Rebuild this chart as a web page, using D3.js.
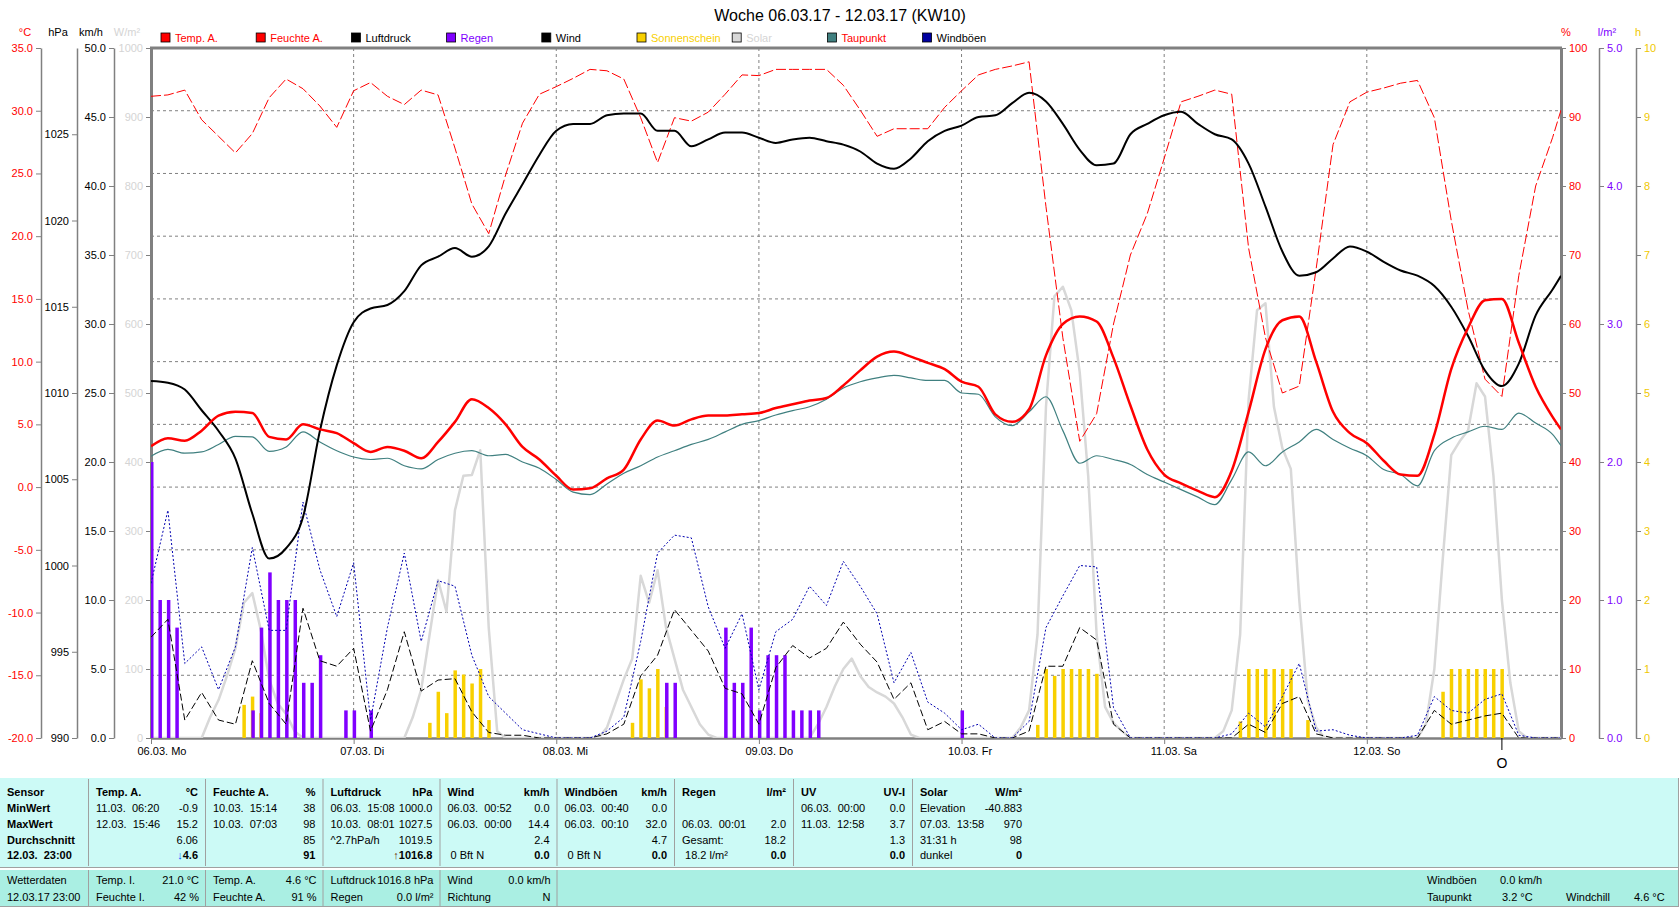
<!DOCTYPE html>
<html>
<head>
<meta charset="utf-8">
<title>Woche 06.03.17 - 12.03.17 (KW10)</title>
<script src="https://cdn.jsdelivr.net/npm/d3@7/dist/d3.min.js"></script>
<style>
  body { margin: 0; background: #ffffff; }
  svg text { font-family: "Liberation Sans", Arial, sans-serif; font-size: 11px; }
</style>
</head>
<body>
<svg id="chart" width="1680" height="909"></svg>
<script>
// hours since 06.03. 00:00, every 2 h plus the last reading at 23:00
var hours = d3.range(0, 168, 2).concat([167]);
var solarHours = d3.range(0, 168);

var pressure = [1010.7,1010.6,1010.2,1009.0,1007.8,1006.2,1003.0,1000.4,1001.0,1002.8,
  1007.8,1011.6,1014.1,1014.9,1015.1,1015.9,1017.4,1017.9,1018.4,1017.9,
  1018.5,1020.4,1022.1,1023.8,1025.2,1025.6,1025.6,1026.1,1026.2,1026.2,
  1025.2,1025.2,1024.3,1024.7,1025.1,1025.1,1024.8,1024.5,1024.7,1024.8,
  1024.6,1024.4,1024.0,1023.3,1023.0,1023.6,1024.6,1025.2,1025.5,1026.0,
  1026.1,1026.8,1027.4,1026.9,1025.6,1024.1,1023.2,1023.3,1025.0,1025.6,
  1026.1,1026.3,1025.6,1025.0,1024.7,1023.3,1020.8,1018.2,1016.8,1017.0,
  1017.8,1018.5,1018.2,1017.6,1017.1,1016.8,1016.2,1015.0,1013.3,1011.3,
  1010.4,1011.7,1014.5,1016.0,1016.8];

var tempOut = [3.25,3.9,3.7,4.5,5.7,6.0,5.9,4.0,3.8,5.0,
  4.6,4.3,3.5,2.8,3.2,2.9,2.3,3.6,5.2,7.0,
  6.3,5.0,3.2,2.2,0.9,-0.2,-0.1,0.7,1.4,3.8,
  5.3,4.9,5.4,5.7,5.7,5.8,5.9,6.3,6.6,6.9,
  7.1,8.1,9.3,10.4,10.8,10.4,9.9,9.4,8.4,8.0,
  5.8,5.2,6.2,10.5,13.0,13.6,13.2,10.3,6.5,3.0,
  1.0,0.3,-0.3,-0.8,1.3,6.0,11.0,13.3,13.6,10.0,
  6.0,4.3,3.5,2.1,1.0,0.9,4.2,9.4,12.7,14.9,
  15.0,11.5,8.0,5.6,4.6];

var dewPoint = [2.45,3.0,2.7,2.8,3.4,4.05,4.0,2.85,3.2,4.4,
  3.6,2.9,2.4,2.2,2.3,1.7,1.45,2.2,2.7,2.9,
  2.5,2.6,2.0,1.5,0.6,-0.4,-0.6,0.25,1.1,1.7,
  2.4,2.9,3.4,3.8,4.4,5.0,5.3,5.75,6.1,6.4,
  7.0,7.9,8.4,8.7,8.9,8.7,8.5,8.5,7.5,7.4,
  5.6,4.9,6.0,7.2,4.5,1.9,2.5,2.2,1.8,1.0,
  0.4,-0.2,-0.8,-1.4,0.6,2.8,1.7,2.8,3.6,4.6,
  3.8,3.1,2.5,1.4,1.0,0.1,2.9,3.9,4.4,4.85,
  4.6,5.9,5.1,4.2,3.3];

var humidity = [93.0,93.2,93.9,89.6,87.2,84.8,87.6,92.8,95.5,94.1,
  91.6,88.5,93.8,95.0,93.0,91.8,93.9,93.2,85.5,77.4,
  73.1,81.6,89.1,93.3,94.4,95.6,96.9,96.7,95.5,89.9,
  83.4,89.9,89.4,90.7,93.3,96.1,96.0,96.9,96.9,96.9,
  96.9,94.6,91.0,87.2,88.3,88.3,88.3,91.4,93.8,96.1,
  96.9,97.4,98.0,77,58,43,47,60,70,76,
  84,92.2,93.0,93.9,93.3,71,58,50,51,68,
  86,92.2,93.6,94.2,94.9,95.3,89.9,75,62,52,
  49.5,67,80,87,91];

var wind = [7.3,8.6,1.3,3.3,1.3,1.0,5.6,2.5,1.0,9.4,
  5.6,5.2,6.5,0.5,3.5,7.7,3.4,4.2,4.3,1.9,
  0.4,0.2,0.2,0,0,0,0,0.3,1.0,4.5,
  6.0,9.3,7.8,6.3,3.6,3.2,1.0,5.1,6.7,5.8,
  6.5,8.4,6.8,5.5,2.8,4.0,0.6,1.2,0.3,0.3,
  0,0,0.5,5.2,5.2,8.0,7.1,1.0,0,0,
  0,0,0,0,0,1.0,0.4,2.5,3.0,0.3,
  0,0,0,0,0,0,2.0,1.0,1.3,1.6,
  1.8,0,0,0,0];

var gusts = [11.2,16.5,5.4,6.6,3.5,6.6,13.8,7.8,7.8,17.1,
  12.2,8.8,12.7,1.3,8.0,13.4,7.0,11.4,11.0,6.0,
  3.0,1.8,0.6,0.3,0,0,0,0.5,1.5,7.0,
  13.4,14.7,14.5,9.5,6.5,9.0,3.5,7.7,8.6,11.0,
  9.6,12.8,11.0,9.0,4.0,6.2,2.6,1.8,0.6,1.0,
  0,0,1.2,8.0,10.3,12.5,12.4,2.2,0,0,
  0,0,0,0,0.3,1.8,0.8,3.0,5.4,0.5,
  0.6,0.2,0,0,0,0.2,3.0,2.0,1.8,2.8,
  3.2,0.2,0,0,0];

// hourly solar radiation W/m²
var solar = [0,0,0,0,0,0,0,30,55,90,130,196,210,157,85,50,35,10,
  0,0,0,0,0,0,0,0,0,0,0,0,0,
  30,70,150,229,183,330,380,381,417,160,10,
  0,0,0,0,0,0,0,0,0,0,0,0,
  15,50,85,115,235,196,243,160,115,70,45,20,5,
  0,0,0,0,0,0,0,0,0,0,0,0,
  20,45,75,100,115,90,74,66,60,50,30,5,
  0,0,0,0,0,0,0,0,0,0,0,0,
  15,40,150,480,640,654,620,530,380,150,45,22,10,
  0,0,0,0,0,0,0,0,0,0,0,
  10,40,150,490,620,630,480,420,390,200,55,15,
  0,0,0,0,0,0,0,0,0,0,0,0,
  20,100,260,410,430,446,514,495,380,200,80,10,
  0,0,0,0,0];

var rainHours = [0,1,2,3,12,13,14,15,16,17,18,19,20,23,24,26,61,62,68,69,70,71,72,73,74,75,76,77,78,79,96];
var rain = [2.0,1.0,1.0,0.8,0.2,0.8,1.2,1.0,1.0,1.0,0.4,0.4,0.6,0.2,0.2,0.2,0.4,0.4,0.8,0.4,0.4,0.8,0.2,0.6,0.6,0.6,0.2,0.2,0.2,0.2,0.2];

var sunHours = [11,12,13,33,34,35,36,37,38,39,40,57,58,59,60,61,105,106,107,108,109,110,111,112,
  129,130,131,132,133,134,135,137,153,154,155,156,157,158,159,160];
var sunshine = [0.48,0.6,0.36,0.22,0.67,0.36,0.98,0.92,0.79,1.0,0.26,0.22,0.85,0.72,1.0,0.45,
  0.19,1.0,0.9,1.0,1.0,1.0,1.0,0.93,0.24,1.0,1.0,1.0,1.0,1.0,1.0,0.26,0.67,1.0,1.0,1.0,1.0,1.0,1.0,1.0];

var dayHours = [0, 24, 48, 72, 96, 120, 144];
var dayLabels = ["06.03. Mo", "07.03. Di", "08.03. Mi", "09.03. Do", "10.03. Fr", "11.03. Sa", "12.03. So"];

var legendNames = ["Temp. A.", "Feuchte A.", "Luftdruck", "Regen", "Wind", "Sonnenschein", "Solar", "Taupunkt", "Windböen"];
var legendBox = ["#ff0000", "#ff0000", "#000000", "#8000ff", "#000000", "#f8d000", "#d8d8d8", "#408080", "#0000a0"];
var legendText = ["#ff0000", "#ff0000", "#000000", "#8000ff", "#000000", "#f8d000", "#d4d4d4", "#ff0000", "#000000"];

var tableHead = [["Sensor",""],["Temp. A.","°C"],["Feuchte A.","%"],["Luftdruck","hPa"],["Wind","km/h"],
  ["Windböen","km/h"],["Regen","l/m²"],["UV","UV-I"],["Solar","W/m²"]];
var tableLeft = [
  ["MinWert","MaxWert","Durchschnitt","12.03.  23:00"],
  ["11.03.  06:20","12.03.  15:46","",""],
  ["10.03.  15:14","10.03.  07:03","",""],
  ["06.03.  15:08","10.03.  08:01","^2.7hPa/h",""],
  ["06.03.  00:52","06.03.  00:00",""," 0 Bft N"],
  ["06.03.  00:40","06.03.  00:10",""," 0 Bft N"],
  ["","06.03.  00:01","Gesamt:"," 18.2 l/m²"],
  ["06.03.  00:00","11.03.  12:58","",""],
  ["Elevation","07.03.  13:58","31:31 h","dunkel"]];
var tableRight = [
  ["","","",""],
  ["-0.9","15.2","6.06","4.6"],
  ["38","98","85","91"],
  ["1000.0","1027.5","1019.5","1016.8"],
  ["0.0","14.4","2.4","0.0"],
  ["0.0","32.0","4.7","0.0"],
  ["","2.0","18.2","0.0"],
  ["0.0","3.7","1.3","0.0"],
  ["-40.883","970","98","0"]];

var statusLeft = [["Wetterdaten","12.03.17 23:00"],["Temp. I.","Feuchte I."],["Temp. A.","Feuchte A."],["Luftdruck","Regen"],["Wind","Richtung"]];
var statusRight = [["",""],["21.0 °C","42 %"],["4.6 °C","91 %"],["1016.8 hPa","0.0 l/m²"],["0.0 km/h","N"]];
var statusExtra = [["Windböen","0.0 km/h"],["Taupunkt","3.2 °C"],["Windchill","4.6 °C"]];

// ---- layout ----
var svg = d3.select("#chart");
var plotL = 151, plotR = 1561, plotT = 48, plotB = 738;
var grey = "#808080";

var x = d3.scaleLinear().domain([0, 167]).range([plotL, plotR]);
var yTemp = d3.scaleLinear().domain([-20, 35]).range([plotB, plotT]);
var yHpa = d3.scaleLinear().domain([990, 1030]).range([plotB, plotT]);
var yKmh = d3.scaleLinear().domain([0, 50]).range([plotB, plotT]);
var ySolar = d3.scaleLinear().domain([0, 1000]).range([plotB, plotT]);
var yPct = d3.scaleLinear().domain([0, 100]).range([plotB, plotT]);
var yRain = d3.scaleLinear().domain([0, 5]).range([plotB, plotT]);
var ySun = d3.scaleLinear().domain([0, 10]).range([plotB, plotT]);

function fmt1(d) { return d.toFixed(1); }

function styleAxis(g, color, w) {
  g.attr("font-size", null).attr("font-family", null);
  g.select(".domain").attr("stroke", grey).attr("stroke-width", w || 1.5);
  g.selectAll(".tick line").attr("stroke", grey);
  g.selectAll(".tick text").attr("fill", color);
}

svg.append("text")
  .attr("x", 840).attr("y", 21)
  .attr("text-anchor", "middle")
  .style("font-size", "16px")
  .text("Woche 06.03.17 - 12.03.17 (KW10)");

// legend
var legend = svg.append("g").selectAll("g")
  .data(legendNames)
  .enter().append("g")
  .attr("transform", function(d, i) { return "translate(" + (161 + i * 95.2) + ",33)"; });
legend.append("rect")
  .attr("width", 9).attr("height", 9)
  .attr("fill", function(d, i) { return legendBox[i]; })
  .attr("stroke", "#000").attr("stroke-width", 0.8);
legend.append("text")
  .attr("x", 14).attr("y", 8.5)
  .attr("fill", function(d, i) { return legendText[i]; })
  .text(function(d) { return d; });

// unit captions
var units = [["°C", 25, "#ff0000"], ["hPa", 58, "#000"], ["km/h", 91, "#000"], ["W/m²", 127, "#d4d4d4"],
  ["%", 1566, "#ff0000"], ["l/m²", 1607, "#8000ff"], ["h", 1638, "#f0c800"]];
svg.append("g").selectAll("text")
  .data(units)
  .enter().append("text")
  .attr("x", function(d) { return d[1]; })
  .attr("y", 36)
  .attr("text-anchor", "middle")
  .attr("fill", function(d) { return d[2]; })
  .text(function(d) { return d[0]; });

// grid
svg.append("g").selectAll("line")
  .data(d3.range(-15, 31, 5))
  .enter().append("line")
  .attr("x1", plotL).attr("x2", plotR)
  .attr("y1", function(d) { return yTemp(d); })
  .attr("y2", function(d) { return yTemp(d); })
  .attr("stroke", grey).attr("stroke-dasharray", "3,3");
svg.append("g").selectAll("line")
  .data(dayHours.slice(1))
  .enter().append("line")
  .attr("x1", function(d) { return x(d); })
  .attr("x2", function(d) { return x(d); })
  .attr("y1", plotT).attr("y2", plotB)
  .attr("stroke", grey).attr("stroke-dasharray", "3,3");

// left axes
svg.append("g").attr("transform", "translate(41,0)")
  .call(d3.axisLeft(yTemp).tickValues(d3.range(-20, 36, 5)).tickFormat(fmt1).tickSize(5).tickSizeOuter(0))
  .call(styleAxis, "#ff0000");
svg.append("g").attr("transform", "translate(77,0)")
  .call(d3.axisLeft(yHpa).tickValues(d3.range(990, 1026, 5)).tickFormat(function(d) { return d; }).tickSize(5).tickSizeOuter(0))
  .call(styleAxis, "#000");
svg.append("g").attr("transform", "translate(114,0)")
  .call(d3.axisLeft(yKmh).tickValues(d3.range(0, 51, 5)).tickFormat(fmt1).tickSize(5).tickSizeOuter(0))
  .call(styleAxis, "#000");
svg.append("g").attr("transform", "translate(" + plotL + ",0)")
  .call(d3.axisLeft(ySolar).tickValues(d3.range(0, 1001, 100)).tickFormat(function(d) { return d; }).tickSize(5).tickSizeOuter(0))
  .call(styleAxis, "#d4d4d4", 3);

// right axes
svg.append("g").attr("transform", "translate(" + plotR + ",0)")
  .call(d3.axisRight(yPct).tickValues(d3.range(0, 101, 10)).tickFormat(function(d) { return d; }).tickSize(5).tickSizeOuter(0))
  .call(styleAxis, "#ff0000", 3);
svg.append("g").attr("transform", "translate(1599,0)")
  .call(d3.axisRight(yRain).tickValues(d3.range(0, 6, 1)).tickFormat(fmt1).tickSize(5).tickSizeOuter(0))
  .call(styleAxis, "#8000ff");
svg.append("g").attr("transform", "translate(1636,0)")
  .call(d3.axisRight(ySun).tickValues(d3.range(0, 11, 1)).tickFormat(function(d) { return d; }).tickSize(5).tickSizeOuter(0))
  .call(styleAxis, "#f0c800");

// top border
svg.append("line")
  .attr("x1", plotL - 1).attr("x2", plotR + 1)
  .attr("y1", plotT).attr("y2", plotT)
  .attr("stroke", grey).attr("stroke-width", 3);

// x axis
var xAxis = svg.append("g").attr("transform", "translate(0," + plotB + ")")
  .call(d3.axisBottom(x).tickValues(dayHours).tickFormat(function(d, i) { return dayLabels[i]; }).tickSize(6).tickSizeOuter(0))
  .call(styleAxis, "#000", 2.5);
xAxis.selectAll(".tick text").attr("text-anchor", "start").attr("dx", -14);

// marker below the axis
svg.append("line")
  .attr("x1", x(160)).attr("x2", x(160))
  .attr("y1", plotB).attr("y2", plotB + 12)
  .attr("stroke", "#000");
svg.append("text")
  .attr("x", x(160)).attr("y", 768)
  .attr("text-anchor", "middle")
  .style("font-size", "14px")
  .text("O");

// plot content
svg.append("clipPath").attr("id", "plotClip")
  .append("rect").attr("x", plotL).attr("y", plotT).attr("width", plotR - plotL).attr("height", plotB - plotT);
var plot = svg.append("g").attr("clip-path", "url(#plotClip)");

function drawLine(values, xs, yScale, color, width, dash, curve) {
  var line = d3.line()
    .x(function(d, i) { return x(xs[i]); })
    .y(function(d) { return yScale(d); })
    .curve(curve || d3.curveLinear);
  plot.append("path")
    .datum(values)
    .attr("d", line)
    .attr("fill", "none")
    .attr("stroke", color)
    .attr("stroke-width", width)
    .attr("stroke-dasharray", dash || null)
    .attr("stroke-linejoin", "round");
}

drawLine(solar, solarHours, ySolar, "#d8d8d8", 2.5);

plot.append("g").selectAll("rect")
  .data(sunshine)
  .enter().append("rect")
  .attr("x", function(d, i) { return x(sunHours[i]) - 1.5; })
  .attr("width", 3.5)
  .attr("y", function(d) { return ySun(d); })
  .attr("height", function(d) { return plotB - ySun(d); })
  .attr("fill", "#f8d000");

plot.append("g").selectAll("rect")
  .data(rain)
  .enter().append("rect")
  .attr("x", function(d, i) { return x(rainHours[i]) - 1; })
  .attr("width", 3.5)
  .attr("y", function(d) { return yRain(d); })
  .attr("height", function(d) { return plotB - yRain(d); })
  .attr("fill", "#8000ff");

drawLine(wind, hours, yKmh, "#000000", 1, "7,3");
drawLine(gusts, hours, yKmh, "#0000b0", 1, "2,2");
drawLine(dewPoint, hours, yTemp, "#408080", 1.2, null, d3.curveMonotoneX);
drawLine(humidity, hours, yPct, "#ff0000", 1, "10,3");
drawLine(pressure, hours, yHpa, "#000000", 2, null, d3.curveMonotoneX);
drawLine(tempOut, hours, yTemp, "#ff0000", 2.5, null, d3.curveMonotoneX);

// ---- table ----
var colStart = [0, 89, 206, 323.5, 440.5, 557.5, 675, 794, 913];
var colEnd = [89, 206, 323.5, 440.5, 557.5, 675, 794, 913, 1030];
var rowBase = [796, 811.5, 827.5, 843.5, 859];

var table = svg.append("g");
table.append("rect").attr("x", 0).attr("y", 778).attr("width", 1679).attr("height", 89).attr("fill", "#ccfaf6");
table.append("rect").attr("x", 0).attr("y", 870).attr("width", 1679).attr("height", 36).attr("fill", "#aaefe3");
table.append("line").attr("x1", 0).attr("x2", 1679).attr("y1", 867.5).attr("y2", 867.5).attr("stroke", "#a0a0a0");
table.append("line").attr("x1", 0).attr("x2", 1679).attr("y1", 868.5).attr("y2", 868.5).attr("stroke", "#ffffff");
table.append("line").attr("x1", 0).attr("x2", 1679).attr("y1", 906.5).attr("y2", 906.5).attr("stroke", "#a0a0a0");
table.append("line").attr("x1", 1678.5).attr("x2", 1678.5).attr("y1", 778).attr("y2", 907).attr("stroke", "#a0a0a0");

table.selectAll(".sepTop")
  .data(colStart.slice(1))
  .enter().append("line")
  .attr("x1", function(d) { return d - 0.5; }).attr("x2", function(d) { return d - 0.5; })
  .attr("y1", 779).attr("y2", 866)
  .attr("stroke", "#a0a0a0");
table.selectAll(".sepBottom")
  .data(colStart.slice(1, 6))
  .enter().append("line")
  .attr("x1", function(d) { return d - 0.5; }).attr("x2", function(d) { return d - 0.5; })
  .attr("y1", 870).attr("y2", 906)
  .attr("stroke", "#a0a0a0");

tableHead.forEach(function(h, c) {
  table.append("text").attr("x", colStart[c] + 7).attr("y", rowBase[0])
    .style("font-weight", "bold").text(h[0]);
  table.append("text").attr("x", colEnd[c] - 8).attr("y", rowBase[0])
    .attr("text-anchor", "end").style("font-weight", "bold").text(h[1]);
  tableLeft[c].forEach(function(t, r) {
    table.append("text").attr("x", colStart[c] + 7).attr("y", rowBase[r + 1])
      .style("white-space", "pre")
      .style("font-weight", c == 0 ? "bold" : null)
      .text(t);
  });
  tableRight[c].forEach(function(t, r) {
    var txt = table.append("text").attr("x", colEnd[c] - 8).attr("y", rowBase[r + 1])
      .attr("text-anchor", "end")
      .style("font-weight", r == 3 ? "bold" : null);
    if (r == 3 && c == 1) txt.append("tspan").attr("fill", "#0050ff").text("↓");
    if (r == 3 && c == 3) txt.append("tspan").attr("fill", "#6a2a00").text("↑");
    txt.append("tspan").text(t);
  });
});

statusLeft.forEach(function(s, c) {
  s.forEach(function(t, r) {
    table.append("text").attr("x", colStart[c] + 7).attr("y", 884 + r * 16.5).text(t);
  });
  statusRight[c].forEach(function(t, r) {
    table.append("text").attr("x", colEnd[c] - 7).attr("y", 884 + r * 16.5)
      .attr("text-anchor", "end").text(t);
  });
});
var extraPos = [[1427, 1500, 884], [1427, 1502, 900.5], [1566, 1634, 900.5]];
statusExtra.forEach(function(s, i) {
  table.append("text").attr("x", extraPos[i][0]).attr("y", extraPos[i][2]).text(s[0]);
  table.append("text").attr("x", extraPos[i][1]).attr("y", extraPos[i][2]).text(s[1]);
});
</script>
</body>
</html>
